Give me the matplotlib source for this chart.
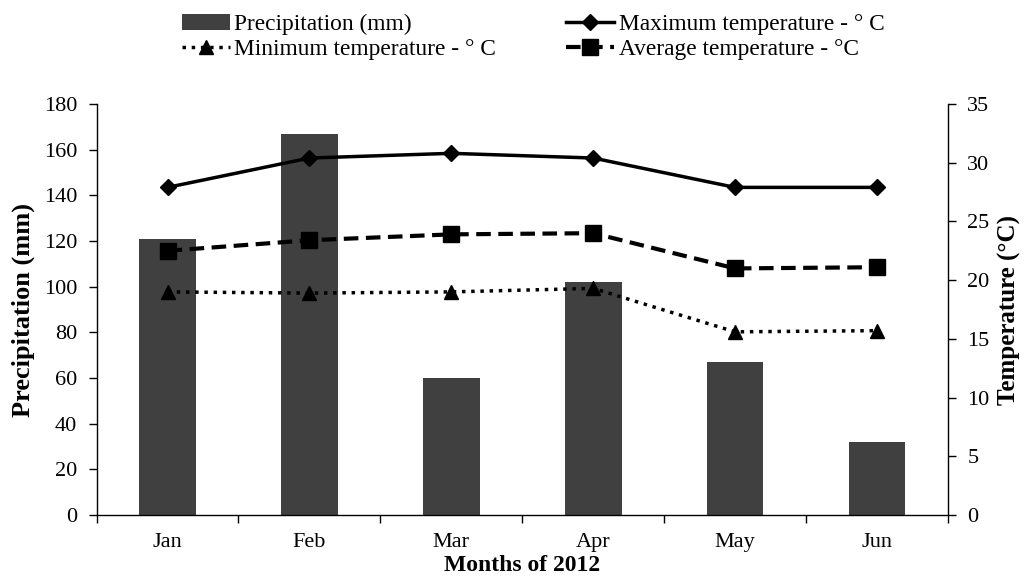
import numpy as np
import matplotlib.pyplot as plt
from matplotlib.ticker import FixedLocator

plt.rcParams['font.family'] = ['Liberation Serif', 'DejaVu Serif']

months = ['Jan', 'Feb', 'Mar', 'Apr', 'May', 'Jun']
precip = [121, 167, 60, 102, 67, 32]
t_max = [27.9, 30.4, 30.8, 30.4, 27.9, 27.9]
t_min = [19.0, 18.9, 19.0, 19.3, 15.6, 15.7]
t_avg = [22.5, 23.4, 23.9, 24.0, 21.0, 21.1]

x = np.arange(len(months))

fig = plt.figure(figsize=(10.28, 5.83), dpi=100)
ax = fig.add_axes([0.094, 0.1166, 0.828, 0.705])
ax2 = ax.twinx()

bars = ax.bar(x, precip, width=0.4, color='#404040', label='Precipitation (mm)', zorder=1)

l_max, = ax2.plot(x, t_max, '-', color='black', lw=2.5, marker='D', ms=8,
                  label='Maximum temperature - ° C')
l_min, = ax2.plot(x, t_min, ':', color='black', lw=2.5, marker='^', ms=10,
                  label='Minimum temperature - ° C')
l_avg, = ax2.plot(x, t_avg, '--', color='black', lw=3, marker='s', ms=11,
                  dashes=(3.5, 1.8), label='Average temperature - °C')

ax.set_xlim(-0.5, 5.5)
ax.set_ylim(0, 180)
ax.set_yticks(range(0, 181, 20))
ax2.set_ylim(0, 35)
ax2.set_yticks(range(0, 36, 5))

ax.set_xticks(x)
ax.set_xticklabels(months)
ax.tick_params(axis='x', which='major', length=0, pad=13, labelsize=16)
ax.xaxis.set_minor_locator(FixedLocator(np.arange(-0.5, 6, 1)))
ax.tick_params(axis='x', which='minor', length=6, direction='out', width=1)
ax.tick_params(axis='y', labelsize=16, length=6, width=1, pad=8)
ax2.tick_params(axis='y', labelsize=16, length=6, width=1, pad=8)

for a in (ax, ax2):
    a.spines['top'].set_visible(False)
    for s in ('left', 'right', 'bottom'):
        a.spines[s].set_linewidth(1.0)
ax.spines['right'].set_visible(False)
ax2.spines['left'].set_visible(False)
ax2.spines['bottom'].set_visible(False)

ax.set_ylabel('Precipitation (mm)', fontsize=19, fontweight='bold', labelpad=6)
ax2.set_ylabel('Temperature (°C)', fontsize=18, fontweight='bold', labelpad=6)
ax.set_xlabel('Months of 2012', fontsize=17, fontweight='bold', labelpad=2)

# column-wise fill: Precip / Min in column 1, Max / Avg in column 2
fig.legend(handles=[bars, l_min, l_max, l_avg], loc='upper left',
           bbox_to_anchor=(0.1565, 1.012), ncol=2, frameon=False, fontsize=16.8,
           handlelength=2.05, handletextpad=0.2, columnspacing=3.0,
           labelspacing=0.15)

fig.savefig('out.png', dpi=100)
